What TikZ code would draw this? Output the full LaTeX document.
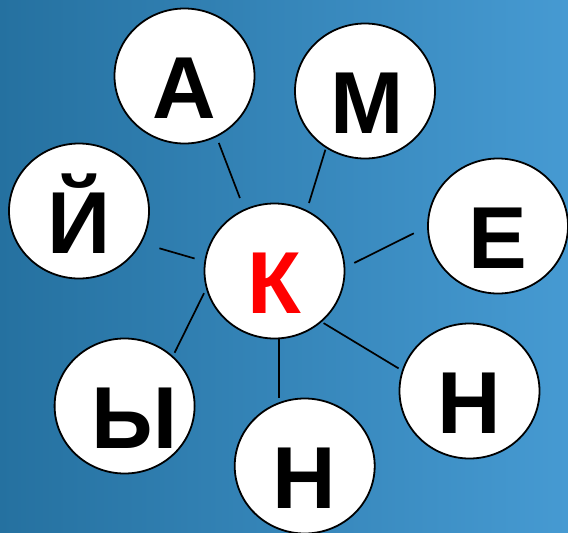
\documentclass[tikz,border=0pt]{standalone}
\usepackage{fontspec}
\setmainfont{Liberation Sans}
\usetikzlibrary{shapes.geometric}
\definecolor{bgleft}{RGB}{37,113,160}
\definecolor{bgright}{RGB}{70,154,210}
\definecolor{kred}{RGB}{255,0,0}
\newcommand{\shiftletter}[2]{\makebox[0pt][c]{\hspace*{#1}#2}}
\tikzset{
  letterbox/.style={ellipse, draw=black, line width=1.8pt, fill=white,
    minimum width=140pt, minimum height=135pt, inner sep=0pt,
    text height=84pt, text depth=0pt,
    font=\fontsize{88}{88}\selectfont\bfseries},
  spoke/.style={draw=black, line width=1.7pt}
}
\begin{document}
\begin{tikzpicture}[x=1pt,y=-1pt]
\shade[left color=bgleft, right color=bgright] (0,0) rectangle (568,533);
\useasboundingbox (0,0) rectangle (568,533);
% spoke end points
\coordinate (a1) at (239.9,198);   \coordinate (a2) at (218.8,142.9);
\coordinate (m1) at (309,203);     \coordinate (m2) at (325.4,149.7);
\coordinate (j1) at (194.6,258.5); \coordinate (j2) at (159.4,248.3);
\coordinate (e1) at (354.3,262.9); \coordinate (e2) at (413.8,233.3);
\coordinate (n1) at (323.6,323.1); \coordinate (n2) at (398.6,368.4);
\coordinate (b1) at (279,339);     \coordinate (b2) at (279,398);
\coordinate (y1) at (204,293.2);   \coordinate (y2) at (174.6,352.7);
\draw[spoke] (a1) -- (a2);
\draw[spoke] (m1) -- (m2);
\draw[spoke] (j1) -- (j2);
\draw[spoke] (e1) -- (e2);
\draw[spoke] (n1) -- (n2);
\draw[spoke] (b1) -- (b2);
\draw[spoke] (y1) -- (y2);
% circles
\node[letterbox] (K) at (274.5,271) {\textcolor{kred}{К}};
\node[letterbox] (A) at (184.5,76) {А};
\node[letterbox] (M) at (365,91) {\shiftletter{5pt}{М}};
\node[letterbox] (J) at (79,211) {Й};
\node[letterbox] (E) at (498,226) {Е};
\node[letterbox] (N1) at (469.5,391) {Н};
\node[letterbox] (N2) at (304.7,466) {Н};
\node[letterbox] (Y) at (124.6,406) {\shiftletter{20pt}{Ы}};
\end{tikzpicture}
\end{document}
